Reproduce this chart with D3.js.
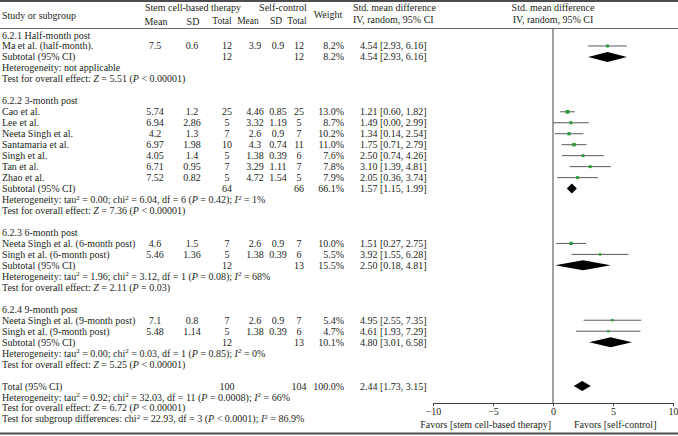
<!DOCTYPE html>
<html>
<head>
<meta charset="utf-8">
<script src="https://cdn.jsdelivr.net/npm/d3@7"></script>
<style>
  body { margin: 0; background: #fff; }
  svg text { font-family: "Liberation Serif", "DejaVu Serif", serif; fill: #231f20; }
</style>
</head>
<body>
<div id="chart"></div>
<script>
// ---- data ----
const groupTitles = ['6.2.1 Half-month post', '6.2.2 3-month post', '6.2.3 6-month post', '6.2.4 9-month post'];

const studyNames = ['Ma et al. (half-month).', 'Cao et al.', 'Lee et al.', 'Neeta Singh et al.', 'Santamaria et al.',
  'Singh et al.', 'Tan et al.', 'Zhao et al.', 'Neeta Singh et al. (6-month post)', 'Singh et al. (6-month post)',
  'Neeta Singh et al. (9-month post)', 'Singh et al. (9-month post)'];
const studyGroup = [0, 1, 1, 1, 1, 1, 1, 1, 2, 2, 3, 3];
const stemMean = ['7.5', '5.74', '6.94', '4.2', '6.97', '4.05', '6.71', '7.52', '4.6', '5.46', '7.1', '5.48'];
const stemSD = ['0.6', '1.2', '2.86', '1.3', '1.98', '1.4', '0.95', '0.82', '1.5', '1.36', '0.8', '1.14'];
const stemN = [12, 25, 5, 7, 10, 5, 7, 5, 7, 5, 7, 5];
const ctrlMean = ['3.9', '4.46', '3.32', '2.6', '4.3', '1.38', '3.29', '4.72', '2.6', '1.38', '2.6', '1.38'];
const ctrlSD = ['0.9', '0.85', '1.19', '0.9', '0.74', '0.39', '1.11', '1.54', '0.9', '0.39', '0.9', '0.39'];
const ctrlN = [12, 25, 5, 7, 11, 6, 7, 5, 7, 6, 7, 6];
const studyWeight = [8.2, 13.0, 8.7, 10.2, 11.0, 7.6, 7.8, 7.9, 10.0, 5.5, 5.4, 4.7];
const studySmd = [4.54, 1.21, 1.49, 1.34, 1.75, 2.50, 3.10, 2.05, 1.51, 3.92, 4.95, 4.61];
const studyLo = [2.93, 0.60, -0.00, 0.14, 0.71, 0.74, 1.39, 0.36, 0.27, 1.55, 2.55, 1.93];
const studyHi = [6.16, 1.82, 2.99, 2.54, 2.79, 4.26, 4.81, 3.74, 2.75, 6.28, 7.35, 7.29];

const subN1 = [12, 64, 12, 12];
const subN2 = [12, 66, 13, 13];
const subWeight = [8.2, 66.1, 15.5, 10.1];
const subSmd = [4.54, 1.57, 2.50, 4.80];
const subLo = [2.93, 1.15, 0.18, 3.01];
const subHi = [6.16, 1.99, 4.81, 6.58];
const subHet = [
  'Heterogeneity: not applicable',
  'Heterogeneity: tau^2 = 0.00; chi^2 = 6.04, df = 6 (_P_ = 0.42); _I_^2 = 1%',
  'Heterogeneity: tau^2 = 1.96; chi^2 = 3.12, df = 1 (_P_ = 0.08); _I_^2 = 68%',
  'Heterogeneity: tau^2 = 0.00; chi^2 = 0.03, df = 1 (_P_ = 0.85); _I_^2 = 0%'
];
const subTest = [
  'Test for overall effect: _Z_ = 5.51 (_P_ < 0.00001)',
  'Test for overall effect: _Z_ = 7.36 (_P_ < 0.00001)',
  'Test for overall effect: _Z_ = 2.11 (_P_ = 0.03)',
  'Test for overall effect: _Z_ = 5.25 (_P_ < 0.00001)'
];

const totalN1 = 100, totalN2 = 104, totalWeight = 100.0;
const totalSmd = 2.44, totalLo = 1.73, totalHi = 3.15;
const totalNotes = [
  'Heterogeneity: tau^2 = 0.92; chi^2 = 32.03, df = 11 (_P_ = 0.0008); _I_^2 = 66%',
  'Test for overall effect: _Z_ = 6.72 (_P_ < 0.00001)',
  'Test for subgroup differences: chi^2 = 22.93, df = 3 (_P_ < 0.0001); _I_^2 = 86.9%'
];
const xTicks = [-10, -5, 0, 5, 10];

// ---- layout ----
const W = 678, H = 436;
const FS = 10;
const rowY0 = 35, rowH = 10.97;
const col = { mean1: 155, sd1: 192, n1: 227, mean2: 255, sd2: 278, n2: 299, wt: 344, eff: 360 };

const svg = d3.select('#chart').append('svg')
  .attr('width', W)
  .attr('height', H);

const x = d3.scaleLinear().domain([-10, 10]).range([433, 673]);

const fmt2 = d3.format('.2f');
const ci = (m, l, h) => `${fmt2(m)} [${fmt2(l).replace('-', '\u2212')}, ${fmt2(h)}]`;

// build row list
const rows = [];
groupTitles.forEach((g, gi) => {
  rows.push({ type: 'title', text: g });
  studyNames.forEach((n, i) => {
    if (studyGroup[i] === gi) rows.push({ type: 'study', i: i });
  });
  rows.push({ type: 'sub', g: gi });
  rows.push({ type: 'note', s: subHet[gi] });
  rows.push({ type: 'note', s: subTest[gi] });
  rows.push({ type: 'blank' });
});
rows.push({ type: 'total' });
totalNotes.forEach(t => rows.push({ type: 'note', s: t }));

const yRow = i => rowY0 + i * rowH;

// rich text: ^2 -> superscript, _X_ -> italic
function richText(sel, s) {
  const parts = s.split(/(\^2|_[A-Z]_)/);
  let back = 0;
  parts.forEach(p => {
    if (!p) return;
    if (p === '^2') {
      sel.append('tspan').attr('dy', -3.5).style('font-size', '7px').text('2');
      back = 3.5;
    } else {
      const t = sel.append('tspan');
      if (back) { t.attr('dy', back); back = 0; }
      if (/^_[A-Z]_$/.test(p)) t.style('font-style', 'italic').text(p[1]);
      else t.text(p);
    }
  });
}

function txt(xp, yp, s, anchor, fs) {
  return svg.append('text')
    .attr('x', xp).attr('y', yp)
    .attr('dy', '0.35em')
    .attr('text-anchor', anchor || 'start')
    .style('font-size', (fs || FS) + 'px')
    .text(s);
}

// ---- header ----
svg.append('line').attr('x1', 0).attr('x2', W).attr('y1', 1).attr('y2', 1)
  .attr('stroke', '#4d4d4f').attr('stroke-width', 2);
svg.append('line').attr('x1', 0).attr('x2', W).attr('y1', 28.5).attr('y2', 28.5)
  .attr('stroke', '#6d6e71').attr('stroke-width', 1);
svg.append('line').attr('x1', 0).attr('x2', W).attr('y1', 433.5).attr('y2', 433.5)
  .attr('stroke', '#4d4d4f').attr('stroke-width', 2);

txt(2, 15, 'Study or subgroup');
txt(193, 7, 'Stem cell-based therapy', 'middle');
txt(283, 7, 'Self-control', 'middle');
txt(156, 21, 'Mean', 'middle');
txt(193, 21, 'SD', 'middle');
txt(222, 21, 'Total', 'middle', 9.5);
txt(248, 21, 'Mean', 'middle', 9.5);
txt(276, 21, 'SD', 'middle', 9.5);
txt(297, 21, 'Total', 'middle', 9.5);
txt(328, 14, 'Weight', 'middle');
txt(353, 7, 'Std. mean difference');
txt(353, 19, 'IV, random, 95% CI');
txt(553, 7, 'Std. mean difference', 'middle');
txt(553, 19, 'IV, random, 95% CI', 'middle');

// ---- zero line ----
svg.append('line')
  .attr('x1', x(0)).attr('x2', x(0))
  .attr('y1', 28.5).attr('y2', 403)
  .attr('stroke', '#414042').attr('stroke-width', 1);

// ---- rows ----
rows.forEach((r, ri) => {
  const y = yRow(ri);
  if (r.type === 'title') {
    txt(2, y, r.text);
  } else if (r.type === 'study') {
    const i = r.i;
    txt(2, y, studyNames[i]);
    txt(col.mean1, y, stemMean[i], 'middle');
    txt(col.sd1, y, stemSD[i], 'middle');
    txt(col.n1, y, stemN[i], 'middle');
    txt(col.mean2, y, ctrlMean[i], 'middle');
    txt(col.sd2, y, ctrlSD[i], 'middle');
    txt(col.n2, y, ctrlN[i], 'middle');
    txt(col.wt, y, studyWeight[i].toFixed(1) + '%', 'end');
    txt(col.eff, y, ci(studySmd[i], studyLo[i], studyHi[i]));
    svg.append('line')
      .attr('x1', x(studyLo[i])).attr('x2', x(studyHi[i]))
      .attr('y1', y).attr('y2', y)
      .attr('stroke', '#58595b').attr('stroke-width', 1);
    const s = Math.sqrt(studyWeight[i]) * 1.05;
    svg.append('rect')
      .attr('x', x(studySmd[i]) - s / 2).attr('y', y - s / 2)
      .attr('width', s).attr('height', s)
      .attr('fill', '#2e9a3e');
  } else if (r.type === 'sub' || r.type === 'total') {
    const g = r.g;
    const isT = r.type === 'total';
    txt(2, y, isT ? 'Total (95% CI)' : 'Subtotal (95% CI)');
    txt(col.n1, y, isT ? totalN1 : subN1[g], 'middle');
    txt(col.n2, y, isT ? totalN2 : subN2[g], 'middle');
    txt(col.wt, y, (isT ? totalWeight : subWeight[g]).toFixed(1) + '%', 'end');
    const m = isT ? totalSmd : subSmd[g], lo = isT ? totalLo : subLo[g], hi = isT ? totalHi : subHi[g];
    txt(col.eff, y, ci(m, lo, hi));
    const dh = 5;
    svg.append('path')
      .attr('d', `M${x(lo)},${y} L${x(m)},${y - dh} L${x(hi)},${y} L${x(m)},${y + dh} Z`)
      .attr('fill', '#000');
  } else if (r.type === 'note') {
    const t = svg.append('text')
      .attr('x', 2).attr('y', y + 3.5)
      .style('font-size', FS + 'px');
    richText(t, r.s);
  }
});

// ---- axis ----
const axis = svg.append('g')
  .attr('transform', 'translate(0,403)')
  .call(d3.axisBottom(x).tickValues(xTicks).tickSize(3).tickPadding(2)
    .tickFormat(d => String(d).replace('-', '\u2212')));
axis.select('.domain').attr('stroke', '#414042');
axis.selectAll('.tick line').attr('stroke', '#414042');
axis.selectAll('.tick text')
  .style('font-size', FS + 'px')
  .style('font-family', '"Liberation Serif", serif')
  .attr('fill', '#231f20');

txt(551, 424, 'Favors [stem cell-based therapy]', 'end');
txt(574, 424, 'Favors [self-control]');
</script>
</body>
</html>
